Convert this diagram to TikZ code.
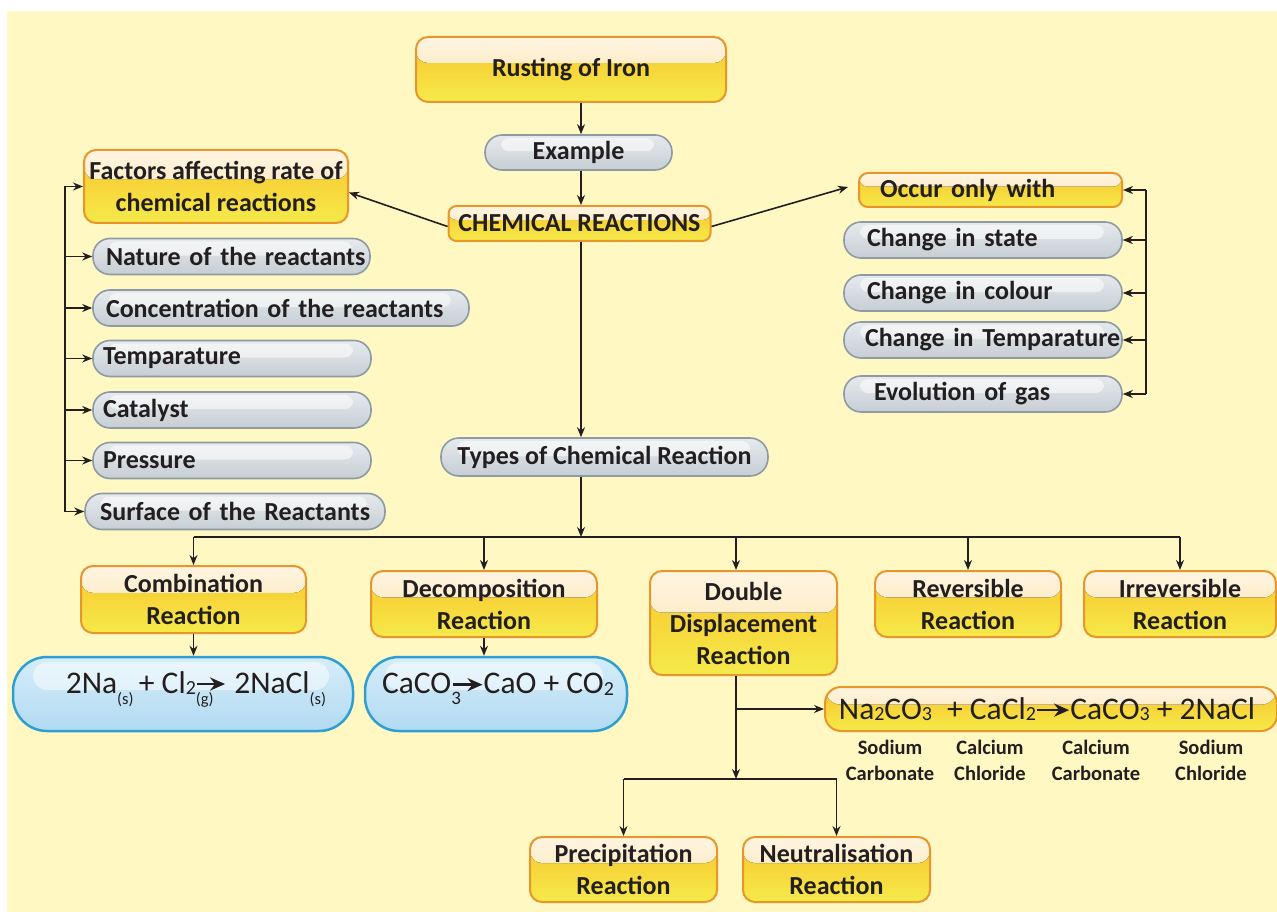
\documentclass[tikz,border=0pt]{standalone}
\usepackage{fontspec}
\setmainfont{Carlito}
\usetikzlibrary{arrows.meta,calc}
\definecolor{bg}{HTML}{FFF8C2}
\definecolor{lc}{HTML}{231F20}
\definecolor{yborder}{HTML}{E8962B}
\definecolor{ygold}{HTML}{F9C42C}
\definecolor{yyel}{HTML}{F5EA4A}
\definecolor{ycream}{HTML}{FEF5E2}
\definecolor{ycream2}{HTML}{FCE2A8}
\definecolor{gborder}{HTML}{8E9BA5}
\definecolor{gtop}{HTML}{E6EAED}
\definecolor{gbot}{HTML}{C6CED4}
\definecolor{bborder}{HTML}{2E9ED3}
\definecolor{btop}{HTML}{D6EDFA}
\definecolor{bbot}{HTML}{B2DAF1}
\newcommand\lo[1]{\raisebox{-1.5pt}{\fontsize{20}{20}\selectfont #1}}
\newcommand\sbs[1]{\raisebox{-11pt}{\fontsize{16.5}{16.5}\selectfont #1}}
\newcommand\eqarr[1]{\tikz[baseline=-9pt]\draw[lc,line width=2.4pt,-{Stealth[length=15pt,width=13pt]}] (0pt,0pt)--(#1,0pt);}
\newcommand\lpill[6]{\node[gpill, minimum width=#4, text width=#4, align=left] (#1) at (#2,#3) {\hspace*{#5pt}#6};}
\tikzset{
  lbl/.style={text=lc, font=\bfseries\fontsize{26}{32}\selectfont},
  ybox/.style={lbl, draw=yborder, line width=2pt, rounded corners=12pt, top color=ygold, bottom color=yyel,
    align=center, inner sep=0pt,
    path picture={\fill[top color=ycream, bottom color=ycream2, draw=none]
      (path picture bounding box.north west) rectangle
      ($(path picture bounding box.north east)!0.4!(path picture bounding box.south east)$);}},
  gpill/.style={lbl, draw=gborder, line width=1.6pt, rounded corners=17pt, top color=gtop, bottom color=gbot,
    inner sep=0pt, minimum height=36,
    path picture={\fill[white, opacity=0.55, rounded corners=8pt]
      ($(path picture bounding box.north west)+(16,3)$) rectangle
      ($(path picture bounding box.east)+(-18,-1)$);}},
  bpill/.style={draw=bborder, line width=2.5pt, rounded corners=34pt, top color=btop, bottom color=bbot,
    inner sep=0pt,
    path picture={\fill[white, opacity=0.5, rounded corners=14pt]
      ($(path picture bounding box.north west)+(20,5)$) rectangle
      ($(path picture bounding box.east)+(-24,-4)$);}},
  eqtext/.style={text=lc, font=\fontsize{31.5}{31.5}\selectfont, inner sep=0pt},
  sub/.style={text=lc, font=\bfseries\fontsize{20.5}{26}\selectfont, align=center, inner sep=0pt},
  conn/.style={draw=lc, line width=1.6pt},
  arr/.style={conn, -{Stealth[length=10pt,width=8pt]}}
}
\begin{document}
\begin{tikzpicture}[x=1pt,y=-1pt]
\useasboundingbox (0,0) rectangle (1277,912);
\fill[white] (0,0) rectangle (1277,912);
\fill[bg] (7,11) rectangle (1277,912);

% top
\node[ybox, minimum width=310, minimum height=65] (rust) at (571,69.5) {Rusting of Iron};
\node[gpill, minimum width=187, minimum height=35] (example) at (578.5,152.5) {Example};
\node[ybox, rounded corners=8pt, minimum width=262, minimum height=35] (chem) at (579.5,223.5) {CHEMICAL REACTIONS};
\node[ybox, minimum width=264, minimum height=73] (factors) at (216,186.5) {Factors affecting rate of\\chemical reactions};
\node[ybox, rounded corners=9pt, minimum width=263, minimum height=34, text width=263, align=left] (occur) at (990.5,190) {\hspace*{21pt}Occur only with};

% left list
\lpill{nature}{231.5}{256.5}{277}{13}{Nature of the reactants}
\lpill{conc}{281}{308}{376}{13}{Concentration of the reactants}
\lpill{temp}{232}{358.5}{278}{10}{Temparature}
\lpill{cat}{232}{410}{278}{10}{Catalyst}
\lpill{press}{232}{460.5}{278}{10}{Pressure}
\lpill{surf}{235}{511.5}{300}{15}{Surface of the Reactants}

% right list
\lpill{state}{983}{240}{278}{23}{Change in state}
\lpill{colour}{983}{293}{278}{23}{Change in colour}
\lpill{tempr}{983}{340}{278}{21}{Change in Temparature}
\lpill{evol}{983}{394}{278}{30}{Evolution of gas}

\node[gpill, minimum width=327, minimum height=38, rounded corners=18pt] (types) at (604.5,457) {Types of Chemical Reaction};

% types
\node[ybox, minimum width=225, minimum height=67] (comb) at (193.5,599.5) {Combination\\Reaction};
\node[ybox, minimum width=226, minimum height=66] (decomp) at (484,604) {Decomposition\\Reaction};
\node[ybox, minimum width=187, minimum height=104] (double) at (743.5,623) {Double\\Displacement\\Reaction};
\node[ybox, minimum width=186, minimum height=66] (rev) at (968,604) {Reversible\\Reaction};
\node[ybox, minimum width=192, minimum height=66] (irrev) at (1180,604) {Irreversible\\Reaction};

% equations
\node[bpill, minimum width=340, minimum height=74] (b1) at (183,694) {};
\node[eqtext] (b1t) at (196,689) {2Na\sbs{(s)}\,+ Cl\lo{2}\rlap{\sbs{(g)}}\eqarr{28pt}\hspace{8pt}2NaCl\sbs{(s)}};
\node[bpill, minimum width=262, minimum height=74] (b2) at (496,694) {};
\node[eqtext] (b2t) at (498,689) {CaCO\rlap{\sbs{\fontsize{19}{19}\selectfont 3}}\eqarr{30pt}CaO + CO\lo{2}};

\node[ybox, rounded corners=16pt, minimum width=452, minimum height=44] (eq) at (1051,709) {};
\node[eqtext] (eqt) at (1047,709) {Na\lo{2}CO\lo{3}\hspace{8pt} + CaCl\lo{2}\eqarr{32pt}CaCO\lo{3} + 2NaCl};

\node[sub] (s1) at (890,760) {Sodium\\Carbonate};
\node[sub] (s2) at (990,760) {Calcium\\Chloride};
\node[sub] (s3) at (1096,760) {Calcium\\Carbonate};
\node[sub] (s4) at (1211,760) {Sodium\\Chloride};

\node[ybox, minimum width=187, minimum height=65] (precip) at (623.5,869.5) {Precipitation\\Reaction};
\node[ybox, minimum width=187, minimum height=65] (neutral) at (836.5,869.5) {Neutralisation\\Reaction};

% connectors
\coordinate (sp) at (581,0);
\draw[arr] (sp |- rust.south) -- (sp |- example.north);
\draw[arr] (sp |- example.south) -- (sp |- chem.north);
\draw[arr] ($(chem.west)+(0,3)$) -- ($(factors.east)+(0,6)$);
\draw[arr] ($(chem.east)+(0,3)$) -- ($(occur.west)+(-10,-3)$);
\draw[arr] (sp |- chem.south) -- (sp |- types.north);
\coordinate (bus) at (581,537);
\draw[arr] (sp |- types.south) -- (bus);
\draw[conn] (comb.north |- bus) -- (irrev.north |- bus);
\foreach \n in {comb,decomp,rev,irrev} \draw[arr] (\n.north |- bus) -- (\n.north);
\coordinate (dd) at (736,0);
\draw[arr] (dd |- bus) -- (dd |- double.north);
\draw[arr] (comb.south) -- (comb.south |- b1.north);
\draw[arr] (decomp.south) -- (decomp.south |- b2.north);
\coordinate (spl) at (736,779);
\draw[arr] (dd |- double.south) -- (spl);
\draw[arr] (dd |- eq.west) -- (eq.west);
\draw[conn] (precip.north |- spl) -- (neutral.north |- spl);
\draw[arr] (precip.north |- spl) -- (precip.north);
\draw[arr] (neutral.north |- spl) -- (neutral.north);

\coordinate (lb) at (65,0);
\draw[conn] (lb |- factors.west) -- (lb |- surf.west);
\foreach \n in {factors,nature,conc,temp,cat,press,surf} \draw[arr] (lb |- \n.west) -- (\n.west);
\coordinate (rb) at (1146,0);
\draw[conn] (rb |- occur.east) -- (rb |- evol.east);
\foreach \n in {occur,state,colour,tempr,evol} \draw[arr] (rb |- \n.east) -- (\n.east);
\end{tikzpicture}
\end{document}
